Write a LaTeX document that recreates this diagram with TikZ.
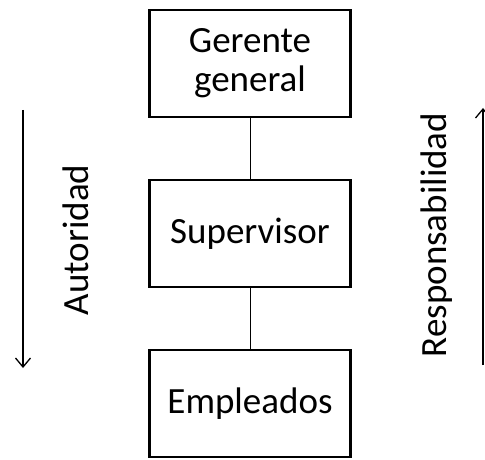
\documentclass[tikz,border=0pt]{standalone}
\usepackage{fontspec}
\setmainfont{Carlito}
\usetikzlibrary{positioning, arrows.meta}

\begin{document}
\begin{tikzpicture}[x=1pt, y=1pt, node distance=170pt, on grid,
    puesto/.style={draw, line width=2.8pt, minimum width=201pt, minimum height=107pt,
                   align=center, font=\fontsize{37}{39}\selectfont},
    enlace/.style={line width=1pt},
    flecha/.style={line width=1.3pt, -{Straight Barb[length=9pt, width=15pt]}},
    rotulo/.style={rotate=90, anchor=base, font=\fontsize{37}{39}\selectfont}]
    \useasboundingbox (0,0) rectangle (485,459);

    \node[puesto] (gerente) at (250,395.5) {Gerente\\general};
    \node[puesto] (supervisor) [below=of gerente] {Supervisor};
    \node[puesto] (empleados) [below=of supervisor] {Empleados};

    \draw[enlace] (gerente) -- (supervisor);
    \draw[enlace] (supervisor) -- (empleados);

    % flechas laterales
    \coordinate (autIni) at (23,349);
    \coordinate (autFin) at (23,91);
    \coordinate (resIni) at (483,94);
    \coordinate (resFin) at (483,351);
    \draw[flecha] (autIni) -- (autFin);
    \draw[flecha] (resIni) -- (resFin);

    \node[rotulo] (autoridad) at (88,219) {Autoridad};
    \node[rotulo] (responsabilidad) at (446,224) {Responsabilidad};
\end{tikzpicture}
\end{document}
